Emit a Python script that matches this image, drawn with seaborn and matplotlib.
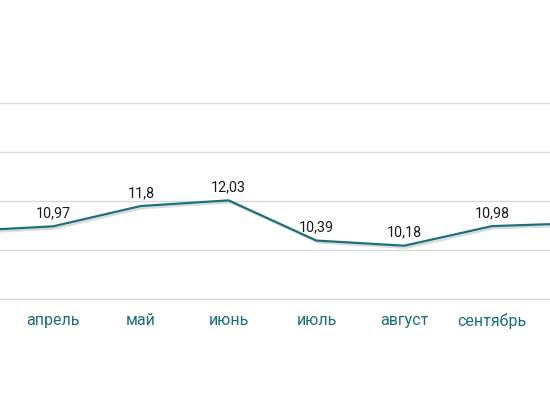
import matplotlib
matplotlib.use('Agg')
import matplotlib.pyplot as plt
import matplotlib.patheffects as pe
import seaborn as sns
import pandas as pd

meses = ['март', 'апрель', 'май', 'июнь', 'июль', 'август', 'сентябрь', 'октябрь']
valores = [10.78, 10.97, 11.8, 12.03, 10.39, 10.18, 10.98, 11.1]
etiquetas = ['10,78', '10,97', '11,8', '12,03', '10,39', '10,18', '10,98', '11,1']

sns.set_theme(style='white')
plt.rcParams['font.family'] = ['Roboto', 'DejaVu Sans']

datos = pd.DataFrame({'pos': range(len(meses)), 'valor': valores})

fig = plt.figure(figsize=(5.5, 4.1), dpi=100)
ax = fig.add_axes([0, 0.268, 1, 0.478])

color_linea = '#1e6f78'
sns.lineplot(data=datos, x='pos', y='valor', ax=ax, color=color_linea, linewidth=1.6,
             path_effects=[pe.SimpleLineShadow(offset=(1.5, -1.5), shadow_color='#999999', alpha=0.35),
                           pe.Normal()])

for i, (v, t) in enumerate(zip(valores, etiquetas)):
    ax.annotate(t, (i, v), xytext=(0, 5), textcoords='offset points',
                ha='center', va='bottom', fontsize=10.3, color='#1a1a1a')

ax.set_yticks([8, 10, 12, 14, 16])
ax.set_yticklabels([])
ax.set_xticks(range(len(meses)))
ax.set_xticklabels(meses, fontsize=11.5, color='#1a6e78')
ax.set_xlim(0.396, 6.66)
ax.set_ylim(8, 16)
ax.yaxis.grid(True, color='#d9d9d9', linewidth=1)
ax.xaxis.grid(False)
for g in ax.get_ygridlines():
    g.set_clip_on(False)
ax.tick_params(axis='x', length=0, pad=9)
ax.tick_params(axis='y', length=0)
ax.set_xlabel('')
ax.set_ylabel('')
for s in ax.spines.values():
    s.set_visible(False)

fig.savefig('out.png', dpi=100)
